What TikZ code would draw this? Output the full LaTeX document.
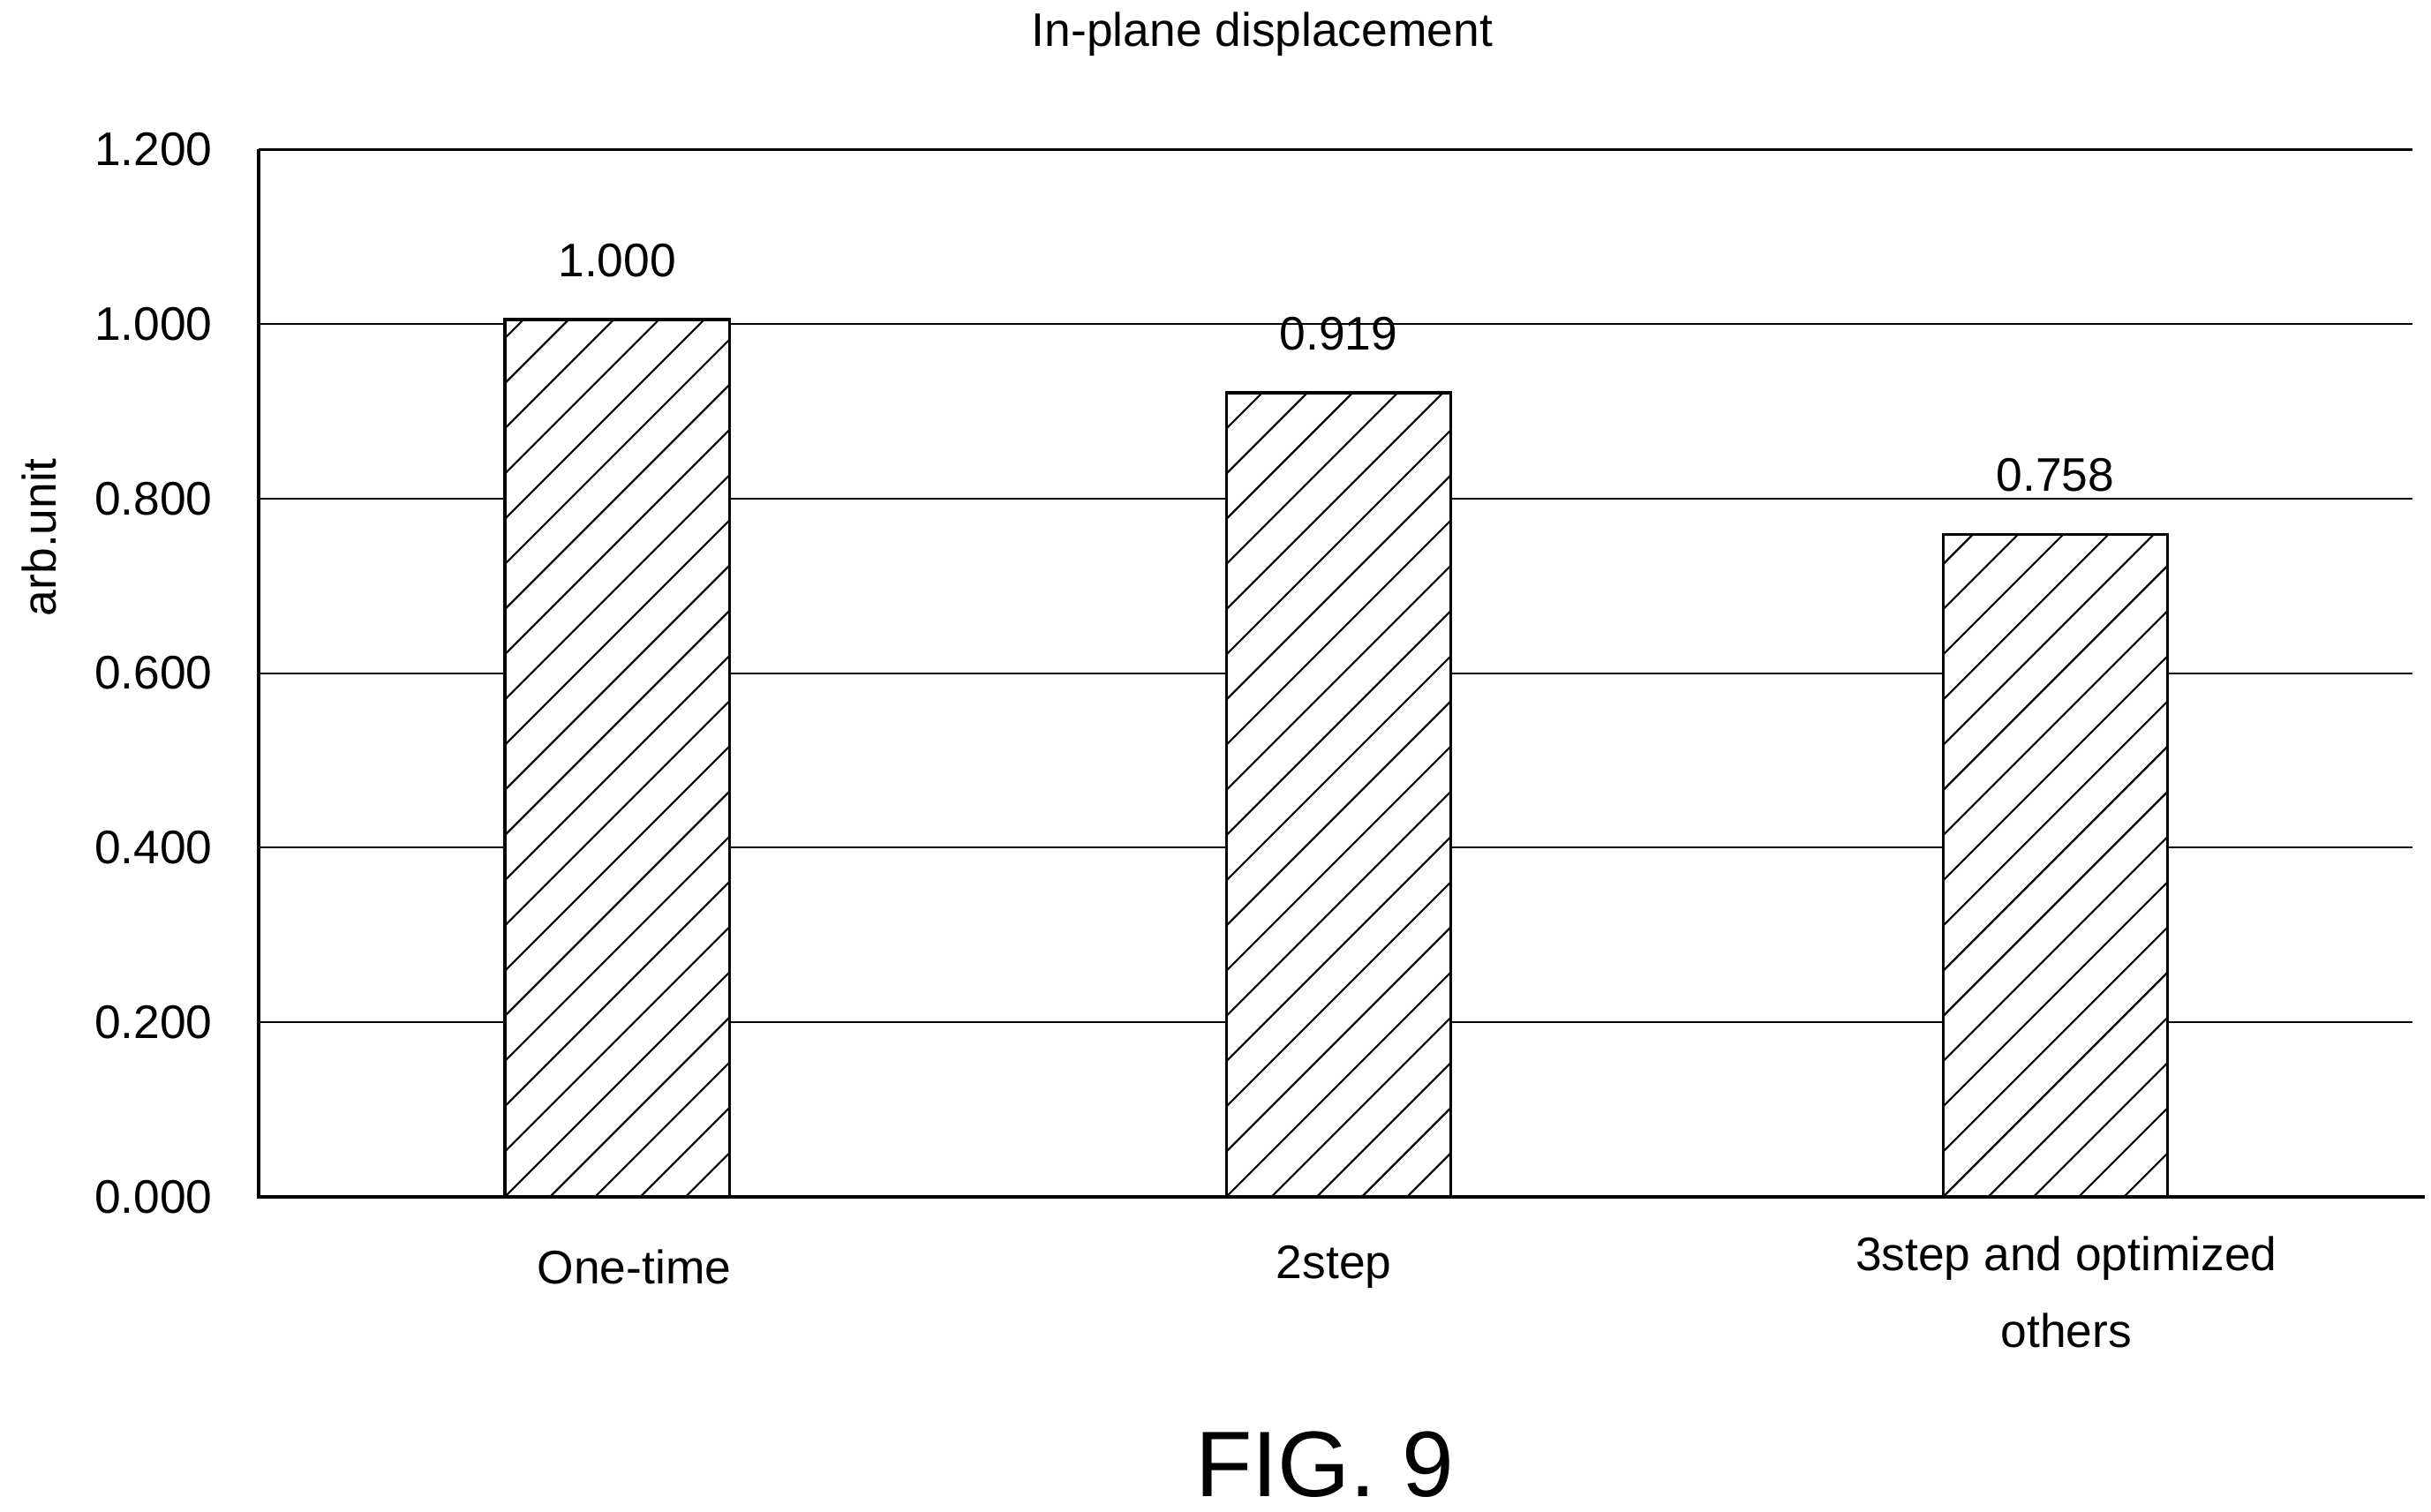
\documentclass[tikz,border=0pt]{standalone}
\usepackage{fontspec}
\setmainfont{Liberation Sans}
\begin{document}
\begin{tikzpicture}[x=0.1mm,y=-0.1mm,
  lbl/.style={font=\fontsize{8.6}{10}\selectfont, inner sep=0pt},
  grid/.style={line width=0.35pt},
  axis/.style={line width=0.65pt},
  barbox/.style={draw, line width=0.55pt, fill=white},
  hatch/.style={line width=0.35pt}]
\useasboundingbox (0,0) rectangle (1560,970);
% gridlines
\foreach \v/\t in {0/0.000,1/0.200,2/0.400,3/0.600,4/0.800,5/1.000,6/1.200}{
  \pgfmathsetmacro{\yy}{768-112*\v}
  \ifnum\v>0 \draw[grid] (166,\yy) -- (1548,\yy);\fi
  \node[lbl, anchor=east] (t\v) at (137,\yy) {\t};
}
% bars
\foreach \n/\l/\top/\val in {a/324/205/1.000, b/787/252/0.919, c/1247/343/0.758}{
  \pgfmathsetmacro{\r}{\l+144}
  \draw[barbox] (\l,768) rectangle (\r,\top);
  \begin{scope}
    \clip (\l,768) rectangle (\r,\top);
    \foreach \i in {-580,-551,...,150}{
      \draw[hatch] (\l+\i,768) -- ++(600,-600);
    }
  \end{scope}
  \draw[line width=0.55pt] (\l,768) rectangle (\r,\top);
  \pgfmathsetmacro{\yl}{\top-38}
  \node[lbl] (v\n) at (\l+72,\yl) {\val};
}
% axes
\draw[axis] (166,96) -- (166,768) -- (1556,768);
% labels
\node[lbl] (title) at (810,22) {In-plane displacement};
\node[lbl, rotate=90] (ylab) at (25,345) {arb.unit};
\node[lbl] (c1) at (407,813) {One-time};
\node[lbl] (c2) at (856,813) {2step};
\node[lbl, align=center] (c3) at (1326,829) {3step and optimized\\[4pt]others};
\node[font=\fontsize{17}{20}\selectfont, inner sep=0pt] (fig) at (850,940) {FIG. 9};
\end{tikzpicture}
\end{document}
